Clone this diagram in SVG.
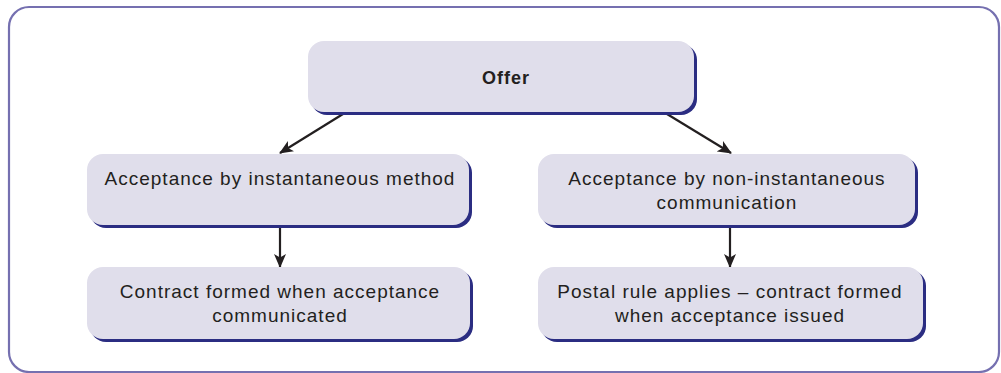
<svg xmlns="http://www.w3.org/2000/svg" width="1001" height="373" viewBox="0 0 1001 373">
<style>
.frame{fill:none;stroke:#7570b0;stroke-width:2.2}
.box{fill:#e0deeb}
.shadow{fill:#2b2d82}
.t{font-family:"Liberation Sans",Arial,sans-serif;font-size:19px;fill:#231f20;text-anchor:middle;letter-spacing:1px}
.b{font-weight:bold;font-size:18px;letter-spacing:1px}
.conn{stroke:#231f20;stroke-width:2.2;fill:none}
</style>
<defs>
<marker id="ah" viewBox="0 0 14 12" refX="13" refY="6" markerWidth="14" markerHeight="12" markerUnits="userSpaceOnUse" orient="auto">
<path d="M0,0 L14,6 L0,12 L3.5,6 Z" fill="#231f20"/>
</marker>
</defs>
<rect class="frame" x="9" y="7" width="990" height="365" rx="20"/>
<g id="connectors">
<line class="conn" x1="343" y1="114" x2="280" y2="153" marker-end="url(#ah)"/>
<line class="conn" x1="667" y1="114" x2="731" y2="153" marker-end="url(#ah)"/>
<line class="conn" x1="280" y1="228" x2="280" y2="267" marker-end="url(#ah)"/>
<line class="conn" x1="730" y1="228" x2="730" y2="267" marker-end="url(#ah)"/>
</g>
<g id="offer">
<rect class="shadow" x="311" y="44" width="386" height="71" rx="16"/>
<rect class="box" x="308" y="41" width="386" height="71" rx="16"/>
<text class="t b" x="506" y="84">Offer</text>
</g>
<g id="instant">
<rect class="shadow" x="90" y="157" width="382" height="71" rx="16"/>
<rect class="box" x="87" y="154" width="382" height="71" rx="16"/>
<text class="t" x="280" y="185">Acceptance by instantaneous method</text>
</g>
<g id="noninstant">
<rect class="shadow" x="541" y="157" width="377" height="71" rx="16"/>
<rect class="box" x="538" y="154" width="377" height="71" rx="16"/>
<text class="t" x="727" y="185">Acceptance by non-instantaneous</text>
<text class="t" x="727" y="209">communication</text>
</g>
<g id="formed">
<rect class="shadow" x="90" y="270" width="383" height="72" rx="16"/>
<rect class="box" x="87" y="267" width="383" height="72" rx="16"/>
<text class="t" x="280" y="298">Contract formed when acceptance</text>
<text class="t" x="280" y="322">communicated</text>
</g>
<g id="postal">
<rect class="shadow" x="541" y="270" width="385" height="72" rx="16"/>
<rect class="box" x="538" y="267" width="385" height="72" rx="16"/>
<text class="t" x="730" y="298">Postal rule applies – contract formed</text>
<text class="t" x="730" y="322">when acceptance issued</text>
</g>
</svg>
